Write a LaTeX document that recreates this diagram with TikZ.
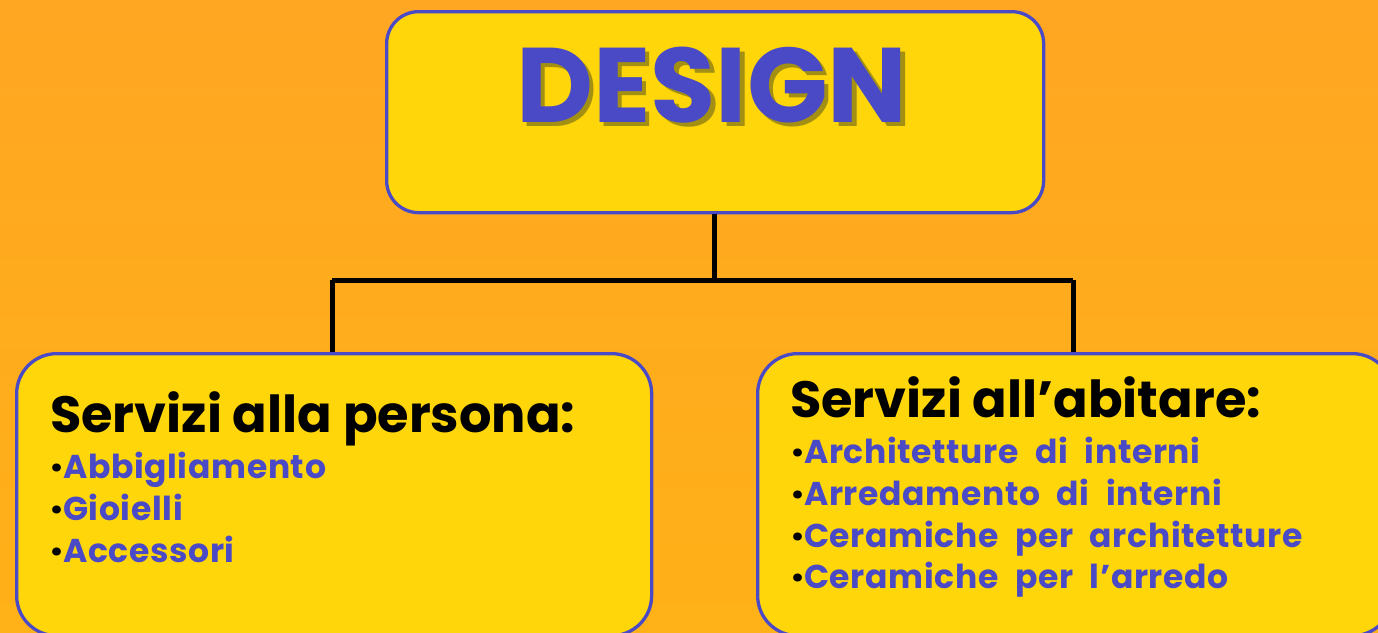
\documentclass[tikz,border=0pt]{standalone}
\usepackage{fontspec}
\setmainfont{Poppins}
\usetikzlibrary{positioning}
\definecolor{bgtop}{HTML}{FFA622}
\definecolor{bgbot}{HTML}{FFB118}
\definecolor{boxfill}{HTML}{FFD60A}
\definecolor{boxline}{HTML}{4A4AC6}
\definecolor{txtblue}{HTML}{4A4AC6}
\definecolor{shadowc}{HTML}{A39012}
\newcommand{\bul}{\textcolor{black}{\raisebox{-3.5pt}{\scalebox{1.3}{·}}}}
\newcommand{\itemfont}{\fontsize{33}{33}\selectfont\bfseries\addfontfeatures{LetterSpace=2}\spaceskip=0.5em plus 0pt minus 0pt\relax}
\newcommand{\shadowed}[1]{\makebox[0pt][l]{\hspace{4.5pt}\raisebox{-4.5pt}{\textcolor{shadowc}{#1}}}#1}
\tikzset{
  box/.style={draw=boxline, line width=3.3pt, fill=boxfill, rounded corners=40pt},
  conn/.style={draw=black, line width=5pt},
  heading/.style={anchor=base west, inner sep=0pt, font=\fontsize{51}{51}\selectfont\bfseries, text=black},
  item/.style={anchor=base west, inner sep=0pt, font=\itemfont, text=txtblue},
}
\begin{document}
\begin{tikzpicture}[x=1pt,y=-1pt]
\shade[top color=bgtop, bottom color=bgbot] (0,0) rectangle (1378,632);
\useasboundingbox (0,0) rectangle (1378,632);
% boxes
\node[box, rounded corners=32pt, minimum width=657pt, minimum height=201pt, anchor=north west] (top) at (385,10) {};
\node[box, minimum width=635pt, minimum height=282pt, anchor=north west] (left) at (15,352) {};
\node[box, minimum width=635pt, minimum height=282pt, anchor=north west] (right) at (756,352) {};
% connectors
\coordinate (j) at (714,280);
\draw[conn] (top.south -| j) -- (j);
\draw[conn] (332,280) coordinate (jl) -- (1073,280) coordinate (jr);
\draw[conn] (jl) -- (jl |- left.north);
\draw[conn] (jr) -- (jr |- right.north);
% title
\node[font=\fontsize{106}{106}\selectfont\bfseries, text=txtblue, inner sep=0pt] (title) at (712,87) {\shadowed{DESIGN}};
% left texts
\node[heading] (lh) at (50,432) {Servizi alla persona:};
\node[item] (l1) at (50,478) {\bul Abbigliamento};
\node[item] (l2) at (50,520) {\bul Gioielli};
\node[item] (l3) at (50,562) {\bul Accessori};
% right texts
\node[heading] (rh) at (790,417) {Servizi all’abitare:};
\node[item] (r1) at (791,463) {\bul Architetture di interni};
\node[item] (r2) at (791,505) {\bul Arredamento di interni};
\node[item] (r3) at (791,547) {\bul Ceramiche per architetture};
\node[item] (r4) at (791,588) {\bul Ceramiche per l’arredo};
\end{tikzpicture}
\end{document}
